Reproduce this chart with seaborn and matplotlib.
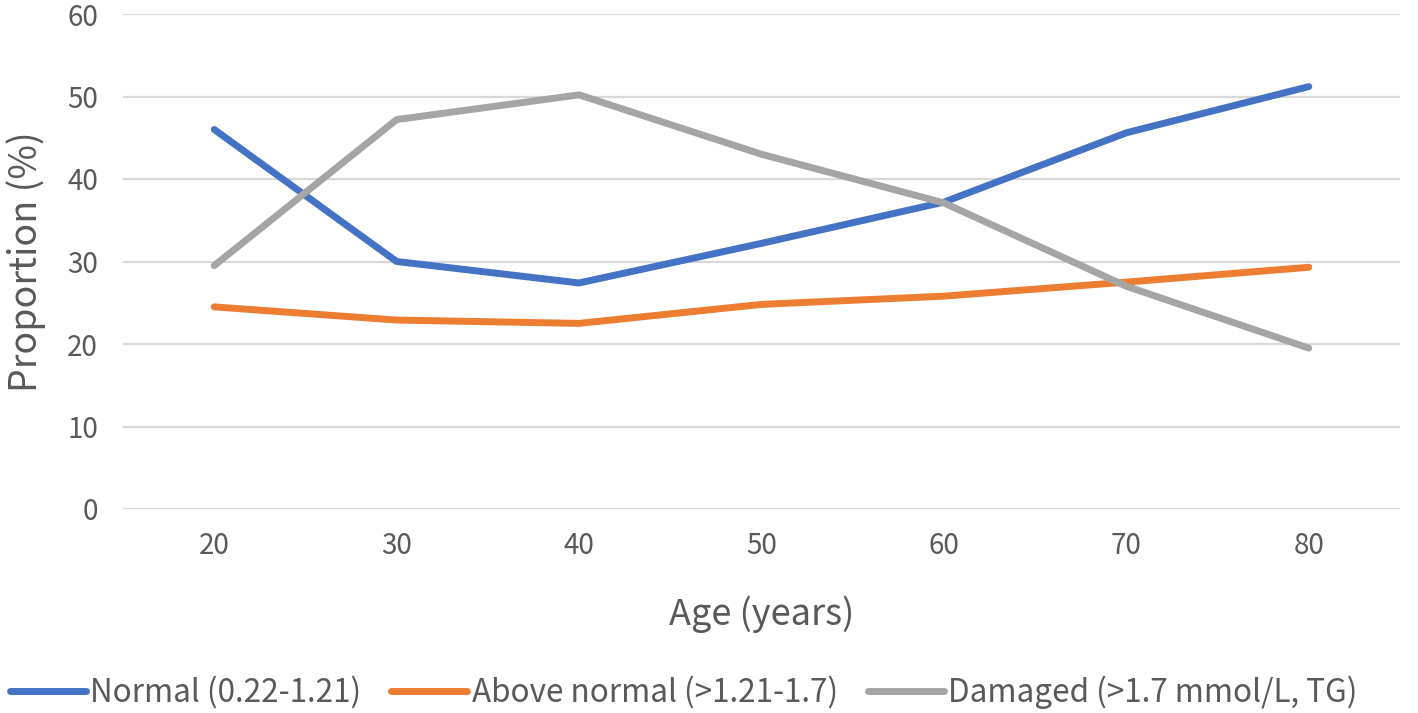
import numpy as np
import pandas as pd
import matplotlib
matplotlib.use("Agg")
import matplotlib.pyplot as plt
import seaborn as sns

# ── Data ──────────────────────────────────────────────────────────────────────
ages = [20, 30, 40, 50, 60, 70, 80]
normal = [46.0, 30.0, 27.4, 32.2, 37.2, 45.6, 51.2]
above_normal = [24.5, 22.9, 22.5, 24.8, 25.8, 27.5, 29.3]
damaged = [29.5, 47.2, 50.2, 43.0, 37.1, 27.0, 19.5]

series_names = [
    "Normal (0.22-1.21)",
    "Above normal (>1.21-1.7)",
    "Damaged (>1.7 mmol/L, TG)",
]
colors = ["#4472C4", "#ED7D31", "#A5A5A5"]

df = pd.concat(
    [
        pd.DataFrame({"Age": ages, "Proportion": vals, "Group": name})
        for name, vals in zip(series_names, [normal, above_normal, damaged])
    ],
    ignore_index=True,
)

# ── Style ─────────────────────────────────────────────────────────────────────
sns.set_theme(style="white")
plt.rcParams["font.family"] = ["Noto Sans CJK SC", "DejaVu Sans"]
TXT = "#595959"

fig = plt.figure(figsize=(14.18, 7.13), dpi=100)
ax = fig.add_axes([123 / 1418, (713 - 509) / 713, (1400 - 123) / 1418, (509 - 14) / 713])

sns.lineplot(
    data=df,
    x="Age",
    y="Proportion",
    hue="Group",
    palette=dict(zip(series_names, colors)),
    linewidth=5,
    ax=ax,
    legend=True,
)
for line in ax.get_lines():
    line.set_solid_capstyle("round")
    line.set_solid_joinstyle("round")

ax.set_xlim(15, 85)
ax.set_ylim(0, 60)
ax.set_xticks(ages)
ax.set_yticks(np.arange(0, 61, 10))
ax.yaxis.grid(True, color="#D9D9D9", linewidth=1.6)
ax.set_axisbelow(True)
for s in ax.spines.values():
    s.set_visible(False)
ax.tick_params(axis="both", length=0, labelsize=20, colors=TXT)
ax.tick_params(axis="y", pad=18)
ax.tick_params(axis="x", pad=16)

ax.set_xlabel("Age (years)", fontsize=26, color=TXT)
ax.set_ylabel("Proportion (%)", fontsize=27, color=TXT)
ax.xaxis.set_label_coords(0.5, -0.175)
ax.yaxis.set_label_coords(-0.060, 0.5)

handles, labels = ax.get_legend_handles_labels()
for h in handles:
    h.set_linewidth(5)
    h.set_solid_capstyle("round")
leg = ax.legend(
    handles,
    labels,
    loc="center left",
    bbox_to_anchor=(-113 / 1277, -183 / 495),
    ncol=3,
    frameon=False,
    fontsize=22.7,
    handlelength=2.4,
    handletextpad=0.15,
    columnspacing=0.95,
    borderaxespad=0,
    borderpad=0,
)
for t in leg.get_texts():
    t.set_color(TXT)

fig.savefig("out.png", dpi=100)
